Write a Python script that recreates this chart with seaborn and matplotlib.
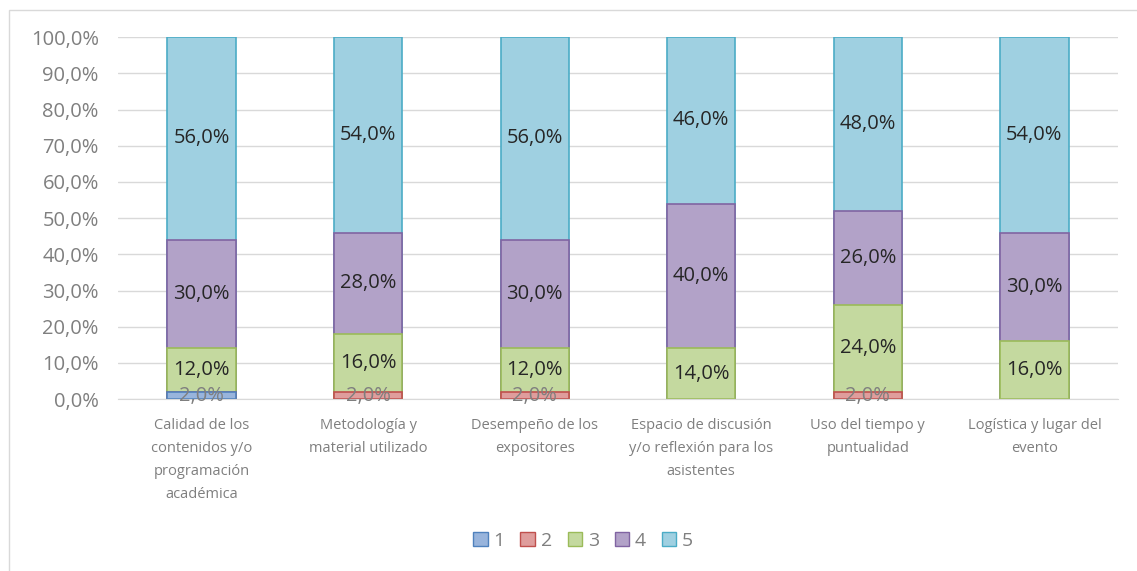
import numpy as np
import pandas as pd
import seaborn as sns
import matplotlib.pyplot as plt
from matplotlib.patches import Patch, Rectangle

categories = [
    "Calidad de los\ncontenidos y/o\nprogramación\nacadémica",
    "Metodología y\nmaterial utilizado",
    "Desempeño de los\nexpositores",
    "Espacio de discusión\ny/o reflexión para los\nasistentes",
    "Uso del tiempo y\npuntualidad",
    "Logística y lugar del\nevento",
]
series_names = ["1", "2", "3", "4", "5"]
s1 = [2, 0, 0, 0, 0, 0]
s2 = [0, 2, 2, 0, 2, 0]
s3 = [12, 16, 12, 14, 24, 16]
s4 = [30, 28, 30, 40, 26, 30]
s5 = [56, 54, 56, 46, 48, 54]

fills = ["#98b4dc", "#df9d9c", "#c4d99f", "#b2a2c8", "#9fd0e1"]
edges = ["#4f81bd", "#c0504d", "#9bbb59", "#8064a2", "#4bacc6"]

sns.set_style("white")
plt.rcParams["font.family"] = ["Open Sans", "DejaVu Sans"]

values = np.array([s1, s2, s3, s4, s5], dtype=float)
cum = values.cumsum(axis=0)

fig = plt.figure(figsize=(11.37, 5.71), dpi=100)
ax = fig.add_axes([0.104, 0.301, 0.879, 0.634])

# draw from the top segment down so each lower segment overlays the taller one
for i in range(4, -1, -1):
    df = pd.DataFrame({"cat": categories, "val": cum[i]})
    sns.barplot(data=df, x="cat", y="val", color=fills[i], width=0.41,
                edgecolor=edges[i], linewidth=1.2, saturation=1, ax=ax, zorder=2)
    for p in ax.containers[-1]:
        if p.get_height() == 0:
            p.set_visible(False)

for j in range(len(categories)):
    for i in range(5):
        v = values[i, j]
        if v == 0:
            continue
        mid = cum[i, j] - v / 2
        col = "#7f7f7f" if v < 5 else "#262626"
        ax.text(j, mid, f"{v:.1f}%".replace(".", ","), ha="center", va="center",
                fontsize=14.5, color=col, zorder=5)

ax.set_ylim(0, 100)
ax.set_xlim(-0.5, len(categories) - 0.5)
ax.set_yticks(np.arange(0, 101, 10))
ax.set_yticklabels([f"{t:.1f}%".replace(".", ",") for t in np.arange(0, 101, 10)])
ax.set_xlabel("")
ax.set_ylabel("")
ax.tick_params(axis="y", length=0, pad=14, labelsize=14.5, labelcolor="#7f7f7f")
ax.tick_params(axis="x", length=0, pad=13.5, labelsize=10.5, labelcolor="#7f7f7f")
for lab in ax.get_xticklabels():
    lab.set_linespacing(1.72)
ax.yaxis.grid(True, color="#d9d9d9", linewidth=1, zorder=0)
ax.set_axisbelow(True)
for side in ["top", "right", "left"]:
    ax.spines[side].set_visible(False)
ax.spines["bottom"].set_color("#d9d9d9")

handles = [Patch(facecolor=fills[i], edgecolor=edges[i], label=series_names[i]) for i in range(5)]
fig.legend(handles=handles, loc="center", bbox_to_anchor=(0.513, 0.053), ncol=5,
           frameon=False, fontsize=14, labelcolor="#7f7f7f", handlelength=0.75,
           handleheight=0.75, handletextpad=0.3, columnspacing=0.8)

fig.patches.append(Rectangle((9 / 1137, -0.1), 1.2, (571 - 10) / 571 + 0.1,
                             transform=fig.transFigure, fill=False,
                             edgecolor="#d9d9d9", linewidth=1))

fig.savefig("out.png", dpi=100)
